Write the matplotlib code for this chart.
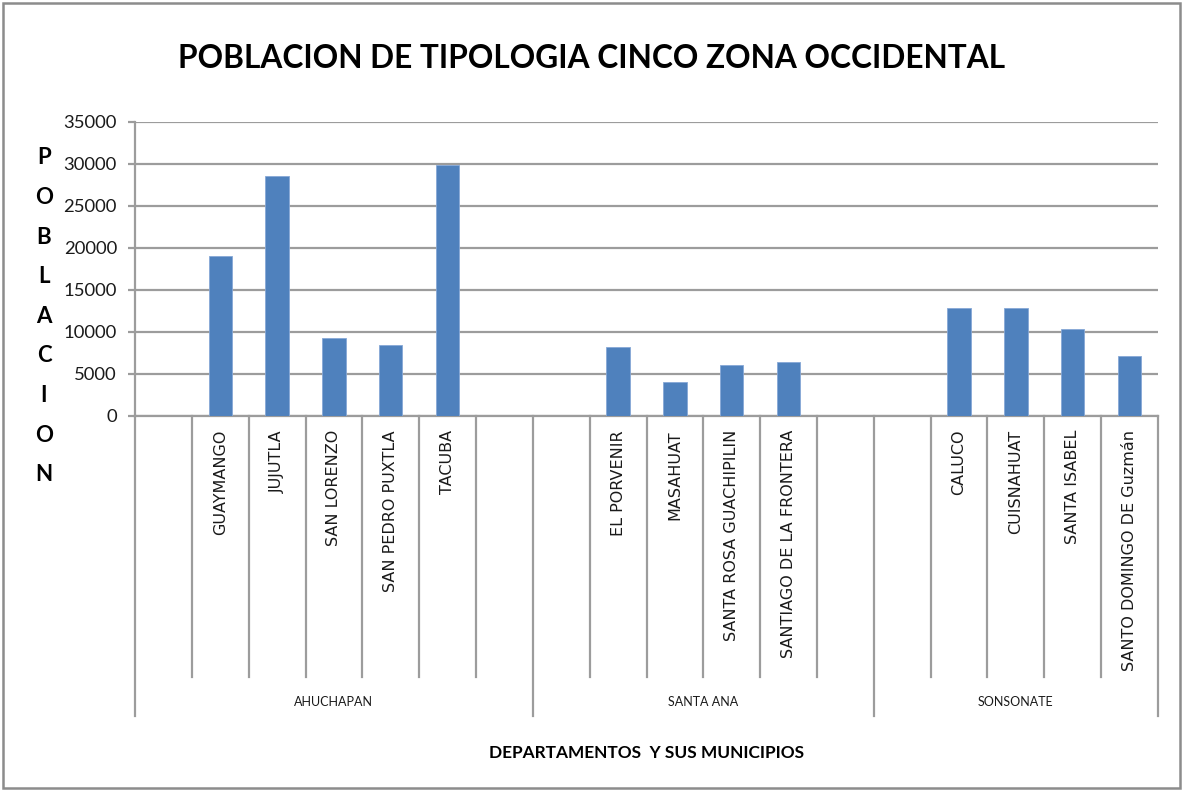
import matplotlib
matplotlib.use('Agg')
import matplotlib.pyplot as plt
from matplotlib.patches import Rectangle

departamentos = ['AHUCHAPAN', 'SANTA ANA', 'SONSONATE']
municipios = [
    ['', 'GUAYMANGO', 'JUJUTLA', 'SAN LORENZO', 'SAN PEDRO PUXTLA', 'TACUBA', ''],
    ['', 'EL PORVENIR', 'MASAHUAT', 'SANTA ROSA GUACHIPILIN', 'SANTIAGO DE LA FRONTERA', ''],
    ['', 'CALUCO', 'CUISNAHUAT', 'SANTA ISABEL', 'SANTO DOMINGO DE Guzmán'],
]
poblacion = [
    [None, 19100, 28600, 9300, 8500, 29900, None],
    [None, 8200, 4100, 6100, 6400, None],
    [None, 12800, 12800, 10300, 7200],
]
yticks = [0, 5000, 10000, 15000, 20000, 25000, 30000, 35000]

W, H = 1182, 791
GRAY = '#9c9c9c'
BAR = '#4f81bd'
narrow = ['Lato', 'DejaVu Sans']

fig = plt.figure(figsize=(W / 100, H / 100), dpi=100)
ax = fig.add_axes([135 / W, 1 - 416 / H, (1158 - 135) / W, (416 - 122) / H])

# flatten slots
labels, values, bounds = [], [], [0]
for mun, pob in zip(municipios, poblacion):
    labels += mun
    values += pob
    bounds.append(bounds[-1] + len(mun))
n = len(labels)

xs = [i + 0.5 for i, v in enumerate(values) if v is not None]
hs = [v for v in values if v is not None]
ax.bar(xs, hs, width=0.41, color=BAR, edgecolor='#86a8d6', linewidth=0.6, zorder=3)

ax.set_xlim(0, n)
ax.set_ylim(0, 35000)
ax.set_yticks(yticks)
ax.set_yticklabels([str(t) for t in yticks], family=narrow, fontsize=13.3, color='#1a1a1a')
ax.set_xticks([])
ax.yaxis.grid(True, color=GRAY, linewidth=1.6, zorder=0)
ax.set_axisbelow(True)
for s in ['top', 'right']:
    ax.spines[s].set_visible(False)
for s in ['left', 'bottom']:
    ax.spines[s].set_color(GRAY)
    ax.spines[s].set_linewidth(1.6)
ax.tick_params(axis='y', length=5, width=1.6, color=GRAY, pad=8)

# multi-level category axis
tr = ax.get_xaxis_transform()
low_mun = -(677 - 416) / (416 - 122)
low_dep = -(716 - 416) / (416 - 122)
for j in range(n + 1):
    y1 = low_dep if j in bounds else low_mun
    ax.plot([j, j], [0, y1], color=GRAY, linewidth=1.6, transform=tr, clip_on=False)
for i, lab in enumerate(labels):
    if lab:
        ax.text(i + 0.5, -(430 - 416) / (416 - 122), lab, transform=tr, rotation=90,
                ha='center', va='top', fontsize=11.5, color='#1a1a1a', family='DejaVu Sans')
for k, dep in enumerate(departamentos):
    ax.text((bounds[k] + bounds[k + 1]) / 2, -(702 - 416) / (416 - 122), dep, transform=tr,
            ha='center', va='center', fontsize=9, color='#1a1a1a', family=narrow)

fig.text(592 / W, 1 - 59 / H, 'POBLACION DE TIPOLOGIA CINCO ZONA OCCIDENTAL',
         ha='center', va='center', fontsize=22.8, fontweight='bold', family=narrow)
fig.text(647 / W, 1 - 753 / H, 'DEPARTAMENTOS  Y SUS MUNICIPIOS',
         ha='center', va='center', fontsize=12.4, fontweight='bold', family=narrow)
for k, ch in enumerate('POBLACION'):
    fig.text(44 / W, 1 - (158 + k * 39.6) / H, ch, ha='center', va='center',
             fontsize=16, fontweight='bold', family=narrow)

fig.patches.append(Rectangle((3 / W, 3 / H), 1177 / W, 785 / H, transform=fig.transFigure,
                             fill=False, edgecolor='#8c8c8c', linewidth=1.8))

fig.savefig('out.png', dpi=100)
